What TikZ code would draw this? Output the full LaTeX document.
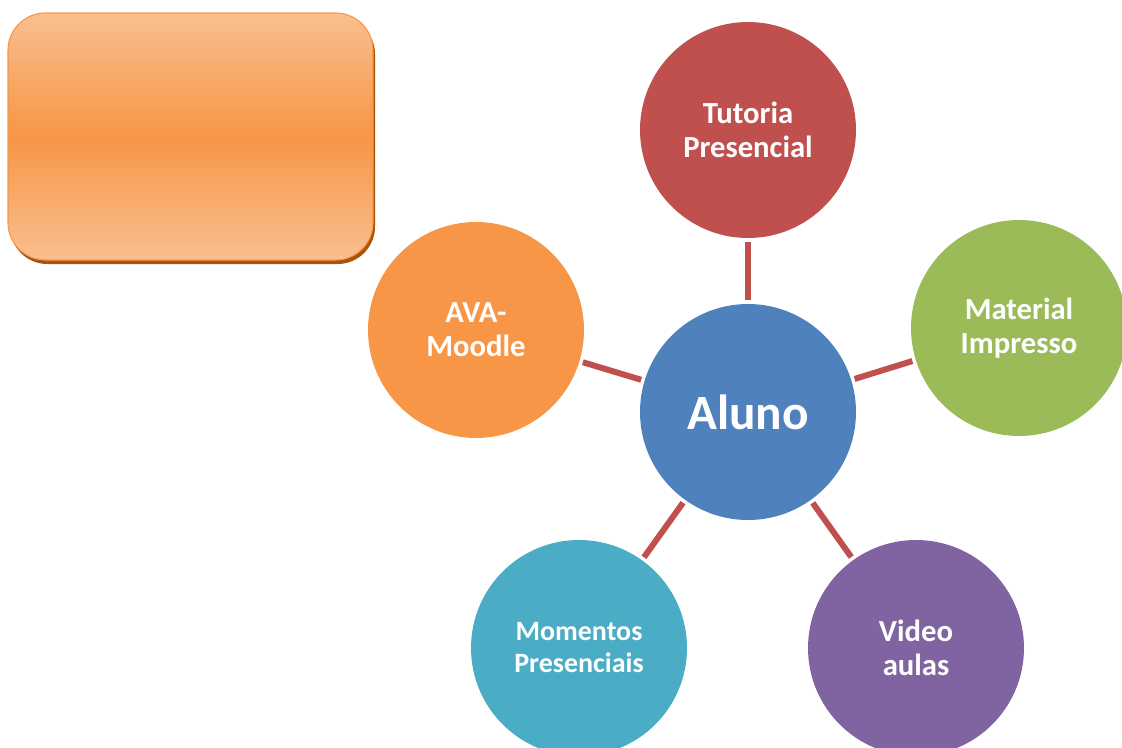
\documentclass[tikz,border=0pt]{standalone}
\usepackage{fontspec}
\setmainfont{Carlito}
\usetikzlibrary{shadows}
\definecolor{cBlue}{HTML}{4F81BD}
\definecolor{cRed}{HTML}{C0504D}
\definecolor{cGreen}{HTML}{9BBB59}
\definecolor{cPurple}{HTML}{8064A2}
\definecolor{cAqua}{HTML}{4BACC6}
\definecolor{cOrange}{HTML}{F79646}
\definecolor{cLight}{HTML}{F9BF8F}
\definecolor{cShadow}{HTML}{A9530D}
\tikzset{
  bubble/.style={circle, minimum size=162pt, inner sep=0pt, text=white, align=center,
    font=\bfseries\fontsize{23}{25.5}\selectfont},
  link/.style={line width=4.5pt, cRed, shorten >=2.5pt, shorten <=2.5pt},
  panel/.style={rectangle, rounded corners=28pt, minimum width=273.75pt, minimum height=185.25pt,
    draw=cOrange, line width=0.8pt, top color=cLight, bottom color=cLight, middle color=cOrange,
    drop shadow={shadow xshift=1.5pt, shadow yshift=-3pt, fill=cShadow, opacity=1}}
}
\begin{document}
\begin{tikzpicture}[x=0.75pt,y=-0.75pt]
\path[use as bounding box] (0,0) rectangle (1122,747);
\clip (0,0) rectangle (1122,747);
\node[panel] (box) at (190.5,136.5) {};
% centre and satellites
\node[bubble, fill=cBlue, font=\bfseries\fontsize{37}{40}\selectfont] (aluno) at (748,412) {Aluno};
\node[bubble, fill=cRed] (tutoria) at (748,130) {Tutoria\\Presencial};
\node[bubble, fill=cGreen] (material) at (1019,328) {Material\\Impresso};
\node[bubble, fill=cPurple] (video) at (916,648) {Video\\aulas};
\node[bubble, fill=cAqua, font=\bfseries\fontsize{21}{24}\selectfont] (momentos) at (579,648) {Momentos\\Presenciais};
\node[bubble, fill=cOrange] (ava) at (476,330) {AVA-\\Moodle};
\path[draw,link] (aluno) -- (tutoria);
\path[draw,link] (aluno) -- (material);
\path[draw,link] (aluno) -- (video);
\path[draw,link] (aluno) -- (momentos);
\path[draw,link] (aluno) -- (ava);
\end{tikzpicture}
\end{document}
